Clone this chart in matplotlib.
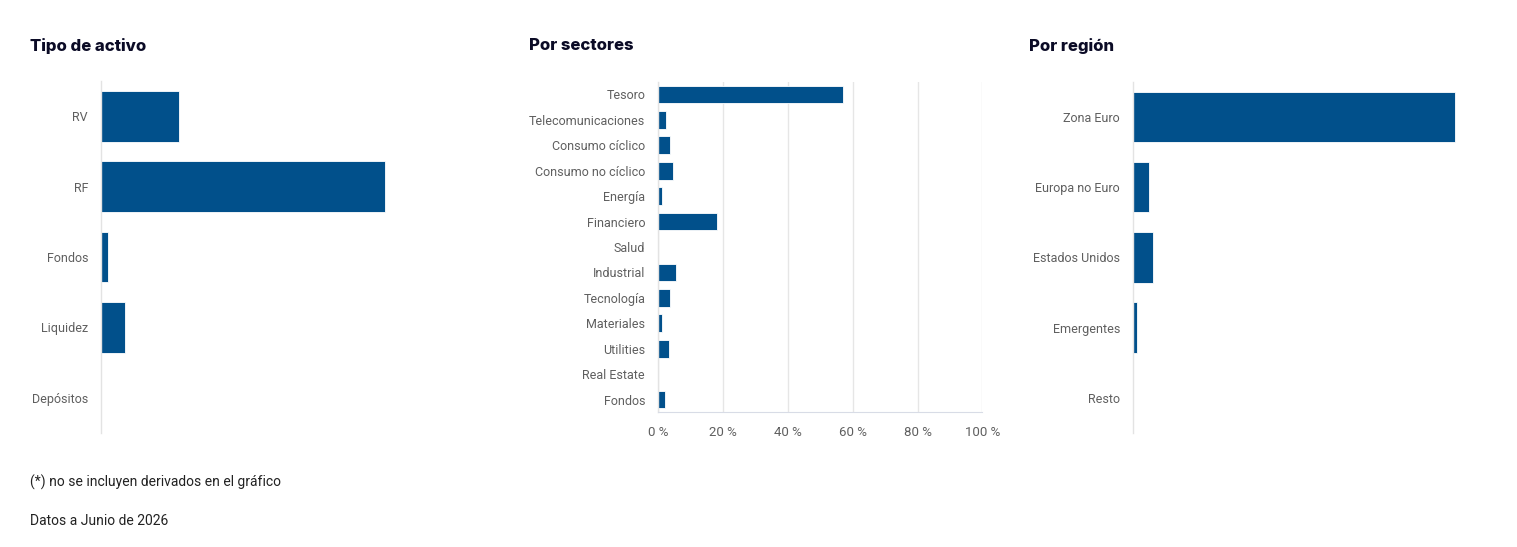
import matplotlib.pyplot as plt
from matplotlib.ticker import FuncFormatter

# data (percent of the axis range)
tipo_labels = ["RV", "RF", "Fondos", "Liquidez", "Depósitos"]
tipo_values = [23.9, 87.5, 2.2, 7.3, 0.0]

sector_labels = ["Tesoro", "Telecomunicaciones", "Consumo cíclico", "Consumo no cíclico",
                 "Energía", "Financiero", "Salud", "Industrial", "Tecnología",
                 "Materiales", "Utilities", "Real Estate", "Fondos"]
sector_values = [57.1, 2.3, 3.5, 4.6, 1.1, 18.0, 0.0, 5.4, 3.5, 1.1, 3.4, 0.0, 2.0]

region_labels = ["Zona Euro", "Europa no Euro", "Estados Unidos", "Emergentes", "Resto"]
region_values = [99.3, 4.8, 6.0, 1.1, 0.0]

x_ticks = [0, 20, 40, 60, 80, 100]

BAR = "#01508b"
LABEL = "#5f5f5f"
TITLE = "#0b0b26"

W, H = 1517, 547
fig = plt.figure(figsize=(W / 100, H / 100), dpi=100)
plt.rcParams["font.family"] = ["Roboto", "DejaVu Sans"]


def px_axes(x0, top, width, bottom):
    return fig.add_axes([x0 / W, 1 - bottom / H, width / W, (bottom - top) / H])


def hbar(ax, labels, values, height):
    n = len(labels)
    ax.barh(range(n), values, height=height, color=BAR, edgecolor="white", linewidth=0.6)
    ax.set_ylim(n - 0.5, -0.5)
    ax.set_xlim(0, 100)
    ax.set_yticks(range(n))
    ax.set_yticklabels(labels, color=LABEL, fontsize=9)
    ax.tick_params(axis="y", length=0, pad=9.5)
    for lbl in ax.get_yticklabels():
        lbl.set_va("center_baseline")
    for s in ["top", "right", "bottom"]:
        ax.spines[s].set_visible(False)
    ax.spines["left"].set_color("#e3e3e3")
    ax.spines["left"].set_linewidth(1)
    ax.set_xticks([])


# Tipo de activo
ax1 = px_axes(101.3, 81, 324, 433)
hbar(ax1, tipo_labels, tipo_values, 0.72)

# Por sectores
ax2 = px_axes(658.3, 81.7, 324, 412.3)
hbar(ax2, sector_labels, sector_values, 0.7)
ax2.set_xticks(x_ticks)
ax2.xaxis.set_major_formatter(FuncFormatter(lambda v, p: f"{v:.0f} %"))
ax2.tick_params(axis="x", length=0, pad=10, labelcolor=LABEL, labelsize=9.5)
ax2.grid(axis="x", color="#e6e6e6", linewidth=1)
ax2.set_axisbelow(True)
ax2.spines["bottom"].set_visible(True)
ax2.spines["bottom"].set_color("#d8dce6")

# Por región
ax3 = px_axes(1133.3, 81.7, 324, 433)
hbar(ax3, region_labels, region_values, 0.72)

for x, t in [(30, "Tipo de activo"), (529, "Por sectores"), (1029, "Por región")]:
    fig.text(x / W, 1 - 46 / H, t, fontsize=12, fontweight="heavy", color=TITLE,
             family=["Inter", "DejaVu Sans"], va="center", ha="left")

fig.text(30 / W, 1 - 482 / H, "(*) no se incluyen derivados en el gráfico",
         fontsize=10, color="#222222", va="center")
fig.text(30 / W, 1 - 521 / H, "Datos a Junio de 2026",
         fontsize=10, color="#222222", va="center")

fig.savefig("out.png", dpi=100, facecolor="white")
